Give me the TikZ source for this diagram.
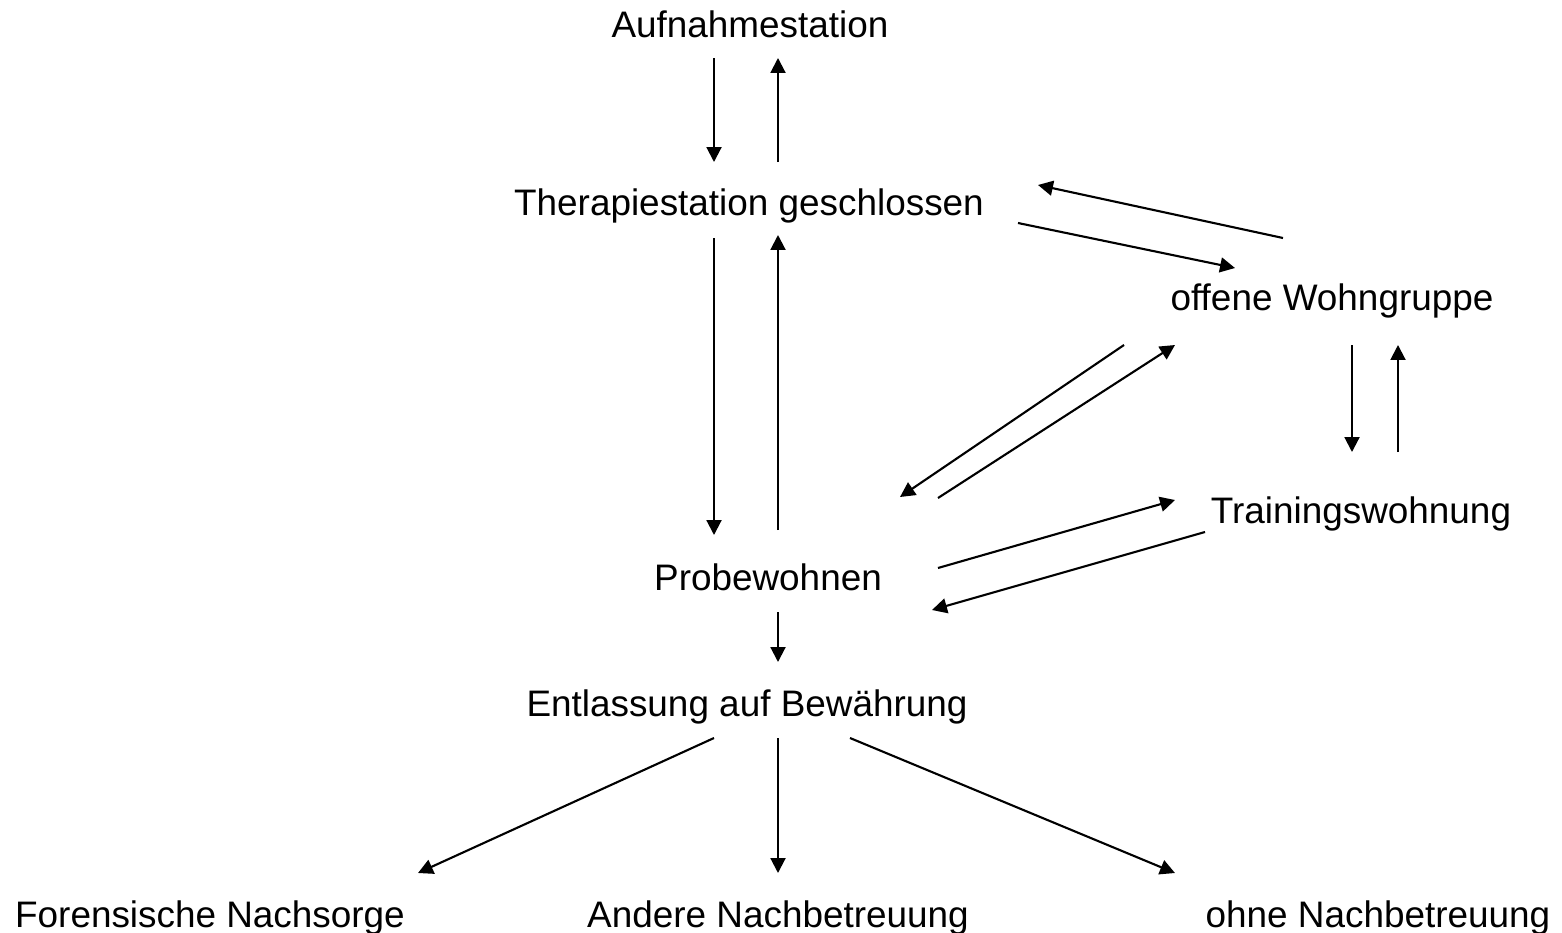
\documentclass[tikz,border=0pt]{standalone}
\usepackage{fontspec}
\setmainfont{Liberation Sans}
\usetikzlibrary{arrows.meta}
\usetikzlibrary{calc}
\tikzset{lbl/.style = {anchor = base, inner sep = 0, font = \fontsize{21}{25}\selectfont}}
\tikzset{pfeil/.style = {line width = 1.2pt, -{Triangle[length = 8.5pt, width = 8.5pt]}}}

\begin{document}
\begin{tikzpicture}[x = 0.02cm, y = -0.02cm]
      \useasboundingbox (0, 0) rectangle (1562, 933);

      \node [lbl] (aufn) at (750, 37) {Aufnahmestation};
      \node [lbl] (ther) at (749, 215) {Therapiestation geschlossen};
      \node [lbl] (offen) at (1332, 310) {offene Wohngruppe};
      \node [lbl] (train) at (1361, 523) {Trainingswohnung};
      \node [lbl] (probe) at (768, 590) {Probewohnen};
      \node [lbl] (entl) at (747, 716) {Entlassung auf Bewährung};
      \node [lbl] (foren) at (210, 927) {Forensische Nachsorge};
      \node [lbl] (andere) at (778, 927) {Andere Nachbetreuung};
      \node [lbl] (ohne) at (1378, 927) {ohne Nachbetreuung};

      \draw [pfeil] ($(aufn.base) + (-36, 21)$) -- ($(ther.base) + (-35, -53)$);
      \draw [pfeil] ($(ther.base) + (29, -53)$) -- ($(aufn.base) + (28, 21)$);
      \draw [pfeil] ($(ther.base) + (-35, 23)$) -- ($(probe.base) + (-54, -55)$);
      \draw [pfeil] ($(probe.base) + (10, -60)$) -- ($(ther.base) + (29, 20)$);
      \draw [pfeil] ($(ther.base) + (269, 8)$) -- ($(offen.base) + (-97, -42)$);
      \draw [pfeil] ($(offen.base) + (-49, -72)$) -- ($(ther.base) + (289, -30)$);
      \draw [pfeil] ($(offen.base) + (-208, 35)$) -- ($(probe.base) + (132, -93)$);
      \draw [pfeil] ($(probe.base) + (170, -92)$) -- ($(offen.base) + (-157, 35)$);
      \draw [pfeil] ($(offen.base) + (20, 35)$) -- ($(train.base) + (-9, -71)$);
      \draw [pfeil] ($(train.base) + (37, -71)$) -- ($(offen.base) + (66, 35)$);
      \draw [pfeil] ($(probe.base) + (170, -22)$) -- ($(train.base) + (-186, -23)$);
      \draw [pfeil] ($(train.base) + (-156, 9)$) -- ($(probe.base) + (164, 20)$);
      \draw [pfeil] ($(probe.base) + (10, 22)$) -- ($(entl.base) + (31, -54)$);
      \draw [pfeil] ($(entl.base) + (-33, 22)$) -- ($(foren.base) + (208, -54)$);
      \draw [pfeil] ($(entl.base) + (31, 22)$) -- ($(andere.base) + (0, -54)$);
      \draw [pfeil] ($(entl.base) + (103, 22)$) -- ($(ohne.base) + (-203, -54)$);
    \end{tikzpicture}
\end{document}
